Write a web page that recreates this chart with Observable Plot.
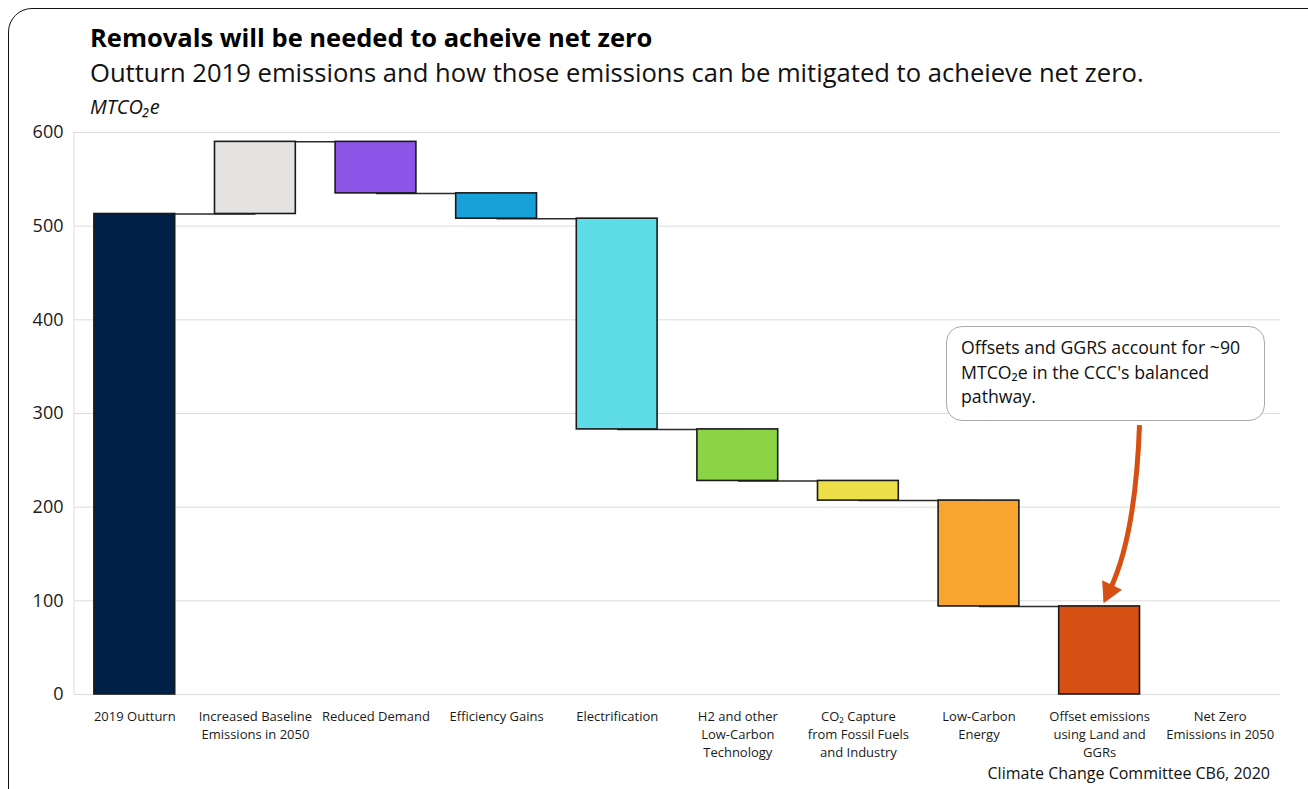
<!DOCTYPE html>
<html><head><meta charset="utf-8">
<script src="https://cdn.jsdelivr.net/npm/d3@7"></script>
<script src="https://cdn.jsdelivr.net/npm/@observablehq/plot@0.6"></script>
<style>
body{margin:0;background:#fff;font-family:"Open Sans",sans-serif;color:#111;}
#wrap{position:relative;width:1308px;height:789px;overflow:hidden;background:#fff;}
#frame{position:absolute;left:8px;top:8px;width:1330px;height:820px;border:1.5px solid #111;border-radius:24px;box-sizing:border-box;}
#title{position:absolute;left:90px;top:20px;font-weight:700;font-size:25.5px;white-space:nowrap;color:#000;}
#subtitle{position:absolute;left:90px;top:55px;font-size:25.6px;white-space:nowrap;color:#111;}
#units{position:absolute;left:90px;top:93px;font-size:20px;font-style:italic;white-space:nowrap;}
#chart{position:absolute;left:0;top:120px;}
#callout{position:absolute;left:946px;top:326px;width:319px;height:95px;box-sizing:border-box;border:1.5px solid #aaa;border-radius:16px;padding:8px 0 0 14px;font-size:17.7px;line-height:24.5px;white-space:nowrap;background:#fff;color:#111;}
#caption{position:absolute;right:38px;top:762px;font-size:16px;white-space:nowrap;}
</style>
</head><body>
<div id="wrap">
  <div id="frame"></div>
  <div id="title">Removals will be needed to acheive net zero</div>
  <div id="subtitle">Outturn 2019 emissions and how those emissions can be mitigated to acheieve net zero.</div>
  <div id="units">MTCO₂e</div>
  <div id="chart"></div>
  <div id="callout">Offsets and GGRS account for ~90<br>MTCO₂e in the CCC's balanced<br>pathway.</div>
  <div id="caption">Climate Change Committee CB6, 2020</div>
</div>
<script>
const categories = ["2019 Outturn","Increased Baseline","Reduced Demand","Efficiency Gains","Electrification","H2 and other","CO2 Capture","Low-Carbon Energy","Offset emissions","Net Zero"];
const tickLabels = ["2019 Outturn","Increased Baseline\nEmissions in 2050","Reduced Demand","Efficiency Gains","Electrification","H2 and other\nLow-Carbon\nTechnology","CO₂ Capture\nfrom Fossil Fuels\nand Industry","Low-Carbon\nEnergy","Offset emissions\nusing Land and\nGGRs","Net Zero\nEmissions in 2050"];
const changes = [513, 77, -55, -27, -225, -55, -21, -113, -94, 0];
const colors = ["#002147","#e4e3e1","#8c55e8","#16a2d8","#5fdde6","#8ad446","#eddf47","#f8a52e","#d64f13","#ffffff"];
const yTicks = [0,100,200,300,400,500,600];
const calloutValue = 287;  // arrow start level
const calloutTarget = 97;  // arrow tip level

let run = 0;
const rows = categories.map((c,i) => {
  const start = (i === 0) ? 0 : run;
  const end = start + changes[i];
  run = end;
  return {cat: c, start, end, color: colors[i]};
});
const links = rows.slice(0, 8).map((r,i) => ({a: r.cat, b: rows[i+1].cat, y: r.end}));
const labelOf = new Map(categories.map((c,i) => [c, tickLabels[i]]));

const plot = Plot.plot({
  width: 1308, height: 650,
  marginTop: 12, marginBottom: 76, marginLeft: 74, marginRight: 28,
  style: {fontFamily: "Open Sans", color: "#1a1a1a", background: "transparent"},
  x: {domain: categories, paddingInner: 0.33, paddingOuter: 0.165, round: false, label: null},
  y: {domain: [0, 600], label: null},
  marks: [
    Plot.gridY(yTicks, {stroke: "#dcdcdc", strokeOpacity: 1, strokeWidth: 1}),
    Plot.link(links, {x1: "a", x2: "b", y1: "y", y2: "y", stroke: "#2a2a2a", strokeWidth: 1.5}),
    Plot.barY(rows.filter(d => d.start !== d.end), {x: "cat", y1: "start", y2: "end", fill: "color", stroke: "#1a1a1a", strokeWidth: 1.6}),
    Plot.axisY(yTicks, {tickSize: 0, tickPadding: 11, fontSize: 18, label: null}),
    Plot.axisX({tickSize: 0, tickPadding: 14, fontSize: 13, lineHeight: 1.38, tickFormat: d => labelOf.get(d), label: null})
  ]
});
document.getElementById("chart").appendChild(plot);

const sx = plot.scale("x"), sy = plot.scale("y");
const svg = d3.select(plot);
// left plot border
svg.insert("line", ":first-child")
  .attr("x1", 74).attr("x2", 74)
  .attr("y1", sy.apply(0)).attr("y2", sy.apply(600))
  .attr("stroke", "#dcdcdc");

// annotation arrow positioned with the plot's scales
const bx = sx.apply(categories[8]), bw = sx.bandwidth;
const x0 = bx + bw, y0 = sy.apply(calloutValue);
const x1 = bx + bw * 0.555, y1 = sy.apply(calloutTarget);
const cx = x0 - 4, cy = y0 + (y1 - y0) * 0.62;
const dx = x1 - cx, dy = y1 - cy, L = Math.hypot(dx, dy);
const ux = dx / L, uy = dy / L;
const headLen = 20, headW = 11;
const bxp = x1 - ux * headLen, byp = y1 - uy * headLen;
svg.append("path")
  .attr("d", `M${x0},${y0} Q${cx},${cy} ${x1 - ux*headLen*0.8},${y1 - uy*headLen*0.8}`)
  .attr("fill", "none").attr("stroke", "#d64f13").attr("stroke-width", 5);
svg.append("path")
  .attr("d", `M${x1},${y1} L${bxp - uy*headW},${byp + ux*headW} L${bxp + uy*headW},${byp - ux*headW} Z`)
  .attr("fill", "#d64f13");
</script>
</body></html>
